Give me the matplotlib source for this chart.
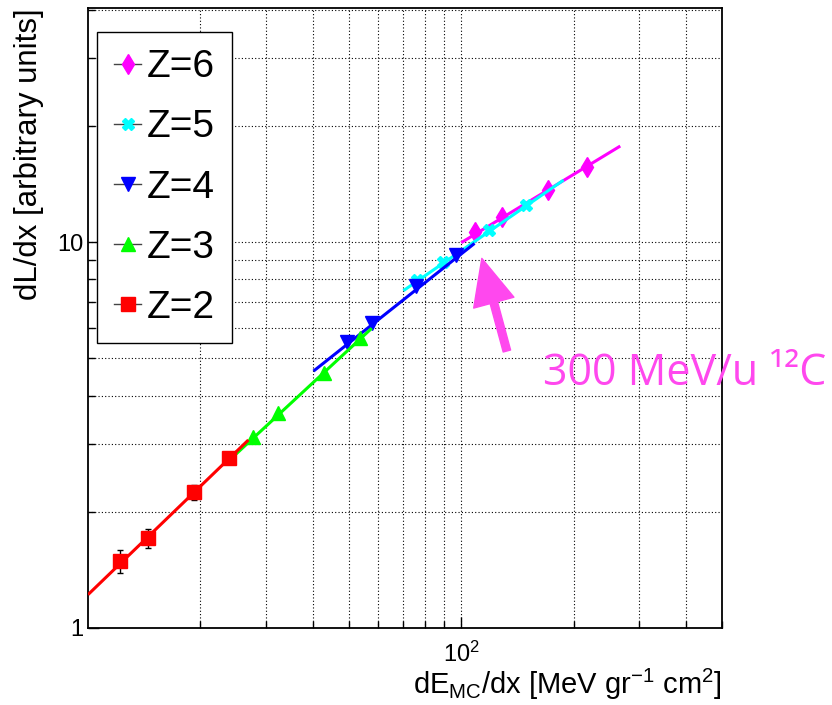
import matplotlib
matplotlib.use("Agg")
import matplotlib.pyplot as plt
from matplotlib.lines import Line2D
from matplotlib.ticker import FixedLocator, FixedFormatter, LogLocator, NullFormatter
import numpy as np

# measured points (dE/dx, dL/dx) for each charge
z2_x = [12.2, 14.5, 19.2, 23.8]
z2_y = [1.49, 1.71, 2.25, 2.76]
z2_err = [0.10, 0.10, 0.10, 0.08]
z3_x = [27.7, 32.3, 42.8, 53.6]
z3_y = [3.12, 3.60, 4.57, 5.63]
z4_x = [49.4, 57.6, 75.8, 96.8]
z4_y = [5.50, 6.16, 7.70, 9.25]
z5_x = [76.1, 89.6, 118.9, 149.4]
z5_y = [7.97, 8.89, 10.74, 12.47]
z6_x = [109.0, 128.5, 170.8, 217.2]
z6_y = [10.63, 11.59, 13.64, 15.67]

# fit line end points
z2_fit_x = [10.0, 26.9]
z2_fit_y = [1.22, 3.07]
z3_fit_x = [24.8, 57.6]
z3_fit_y = [2.81, 5.98]
z4_fit_x = [40.2, 108.6]
z4_fit_y = [4.63, 9.92]
z5_fit_x = [70.0, 188.1]
z5_fit_y = [7.48, 14.47]
z6_fit_x = [100.0, 266.9]
z6_fit_y = [9.96, 17.73]

# arrow tail / tip and label anchor
arrow_tail = (132.6, 5.22)
arrow_tip = (113.6, 9.07)
label_pos = (165.9, 4.26)

plt.rcParams['font.family'] = ['Liberation Sans', 'DejaVu Sans']
plt.rcParams['mathtext.fontset'] = 'custom'
plt.rcParams['mathtext.rm'] = 'Liberation Sans'
plt.rcParams['mathtext.default'] = 'regular'

fig = plt.figure(figsize=(8.32, 7.05), dpi=100)
ax = fig.add_axes([88 / 832, 77 / 705, 634 / 832, 620 / 705])
ax.set_xscale('log')
ax.set_yscale('log')
ax.set_xlim(10, 500)
ax.set_ylim(1, 40.4)

series = [
    (z6_x, z6_y, z6_fit_x, z6_fit_y, '#ff00ff', 'd', 10, 'Z=6'),
    (z5_x, z5_y, z5_fit_x, z5_fit_y, '#00ffff', 'X', 9, 'Z=5'),
    (z4_x, z4_y, z4_fit_x, z4_fit_y, '#0000ff', 'v', 10, 'Z=4'),
    (z3_x, z3_y, z3_fit_x, z3_fit_y, '#00ff00', '^', 10, 'Z=3'),
    (z2_x, z2_y, z2_fit_x, z2_fit_y, '#ff0000', 's', 10, 'Z=2'),
]

handles = []
for i, (x, y, fx, fy, col, mk, ms, lab) in enumerate(series):
    ax.plot(fx, fy, color=col, lw=2.2, zorder=3 + i * 0.1, solid_capstyle='butt')
    ax.plot(x, y, ls='none', marker=mk, ms=ms, color=col, mec=col, zorder=3.05 + i * 0.1)
    handles.append(Line2D([], [], color='#444444', lw=1, marker=mk, ms=ms,
                          mfc=col, mec=col, label=lab))

ax.errorbar(z2_x, z2_y, yerr=z2_err, fmt='none', ecolor='black', elinewidth=1,
            capsize=2, capthick=1, zorder=3.3)

# ticks / grid in ROOT style
ax.xaxis.set_major_locator(FixedLocator([100]))
ax.xaxis.set_major_formatter(FixedFormatter(['$10^{2}$']))
ax.xaxis.set_minor_locator(LogLocator(base=10, subs=np.arange(2, 10)))
ax.xaxis.set_minor_formatter(NullFormatter())
ax.yaxis.set_major_locator(FixedLocator([1, 10]))
ax.yaxis.set_major_formatter(FixedFormatter(['1', '10']))
ax.yaxis.set_minor_locator(LogLocator(base=10, subs=np.arange(2, 10)))
ax.yaxis.set_minor_formatter(NullFormatter())
ax.tick_params(which='both', direction='in', top=False, right=False, labelsize=17)
ax.tick_params(which='major', length=8, width=1)
ax.tick_params(which='minor', length=5, width=1)
ax.tick_params(axis='x', pad=10)
ax.grid(True, which='both', color='black', ls=(0, (1, 2)), lw=0.8)
for sp in ax.spines.values():
    sp.set_linewidth(1.3)

ax.set_xlabel('dE$_{MC}$/dx [MeV gr$^{-1}$ cm$^{2}$]', fontsize=21, loc='right', labelpad=0)
ax.set_ylabel('dL/dx [arbitrary units]', fontsize=22.5, loc='top', labelpad=9)

leg = ax.legend(handles=handles, loc='upper left', bbox_to_anchor=(0.014, 0.961),
                fontsize=28, frameon=True, fancybox=False, edgecolor='black',
                framealpha=1, handlelength=0.7, handletextpad=0.15,
                labelspacing=0.62, borderpad=0.44, borderaxespad=0)
leg.get_frame().set_linewidth(1)
leg.set_zorder(5)

pink = '#ff48ee'
ax.annotate('', xy=arrow_tip, xytext=arrow_tail,
            arrowprops=dict(arrowstyle='simple,head_length=3.3,head_width=3.0,tail_width=0.55',
                            color=pink, mutation_scale=10, shrinkA=0, shrinkB=0),
            zorder=6)
ax.text(label_pos[0], label_pos[1], '300 MeV/u ¹²C', color=pink, fontsize=31,
        family=['Open Sans', 'DejaVu Sans'], ha='left', va='baseline', clip_on=False, zorder=6)

fig.savefig('out.png', dpi=100)
